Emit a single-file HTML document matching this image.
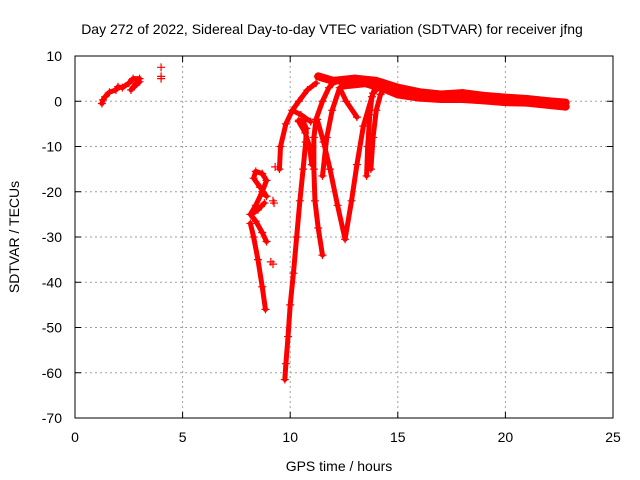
<!DOCTYPE html>
<html><head><meta charset="utf-8"><style>
body{margin:0;background:#fff}
svg{display:block;font-family:"Liberation Sans",sans-serif}
</style></head><body>
<svg id="chart" width="640" height="480">
<rect width="640" height="480" fill="#fff"/>
<text x="332" y="34" font-size="14" text-anchor="middle">Day 272 of 2022, Sidereal Day-to-day VTEC variation (SDTVAR) for receiver jfng</text>
<text x="339" y="471" font-size="14" text-anchor="middle">GPS time / hours</text>
<text transform="translate(19,237) rotate(-90)" font-size="14" text-anchor="middle">SDTVAR / TECUs</text>
<g id="grid"></g><g id="axes"></g><g id="series"></g>
</svg>
<script>
const xTicks=[0,5,10,15,20,25];
const yTicks=[10,0,-10,-20,-30,-40,-50,-60,-70];
// traces: arrays of [hour, SDTVAR]
const traceEarly=[[1.25,-0.5],[1.3,0.3],[1.4,1],[1.6,2],[1.9,2.5],[2.0,3.2],[2.2,3],[2.5,4],[2.7,5],[3.0,5],[2.6,2.5],[3.0,4.3]];
const pointsEarly2=[[4.0,7.5],[4.0,5.5],[4.0,5]];
const traceA=[[8.15,-27],[8.3,-30],[8.5,-35],[8.7,-41],[8.85,-46]];
const traceS=[[8.9,-21],[8.6,-19],[8.3,-17],[8.4,-15.5],[8.7,-16],[8.9,-17.5],[8.7,-20],[8.4,-23],[8.15,-25],[8.4,-26.5],[8.7,-29],[8.9,-31]];
const traceB=[[8.2,-25],[8.5,-24],[8.8,-22.5]];
const pointsIso=[[9.2,-22],[9.1,-35.5],[9.2,-36],[9.25,-22.5],[9.3,-14.5]];
const traceC=[[9.75,-61.5],[9.8,-58],[9.9,-52],[10.0,-45],[10.15,-38],[10.3,-30],[10.45,-22],[10.6,-15],[10.72,-9],[10.75,-6],[10.6,-4.5],[10.4,-4.2]];
const traceD=[[10.4,-4.5],[10.7,-7],[10.9,-10],[11.0,-14]];
const traceE=[[9.5,-15],[9.55,-10],[9.8,-5],[10.1,-2],[10.4,0],[10.8,2.5],[11.2,4]];
const traceF=[[10.1,-2],[10.5,-3],[10.95,-4.5]];
const traceG=[[11.5,-34],[11.3,-28],[11.15,-22],[11.1,-15],[11.1,-8],[11.2,-4],[11.5,0],[11.8,3],[12.1,4.5]];
const traceH=[[11.25,-4],[11.55,-9],[11.85,-15],[12.2,-23],[12.55,-30.5],[12.85,-22],[13.1,-14],[13.4,-5.5],[13.85,1.8],[14.3,4]];
const traceI=[[11.5,-16.5],[11.7,-8],[11.95,-2],[12.3,3],[12.6,0],[13.1,-3.5]];
const traceJ=[[13.55,-16.5],[13.6,-10],[13.7,-3],[13.8,1],[14.0,4]];
const traceK=[[13.75,-15],[13.85,-8],[14.0,-2],[14.2,1.5],[14.4,3]];
const traceTop=[[11.3,5.5],[12,4.5],[13,5],[14,4.5],[15,3],[16,2],[17,1.5],[18,1.8],[19,1.2],[20,0.8],[21,0.5],[22,0],[22.8,-0.3]];
const traceTop2=[[12.5,3.5],[13.5,4],[14.5,2.5],[15,1.5],[16,0.8],[17,0.5],[18,0.5],[19,0.2],[20,-0.2],[21,-0.3],[22,-0.8],[22.8,-1.2]];
const traces=[traceEarly,traceA,traceS,traceB,traceC,traceD,traceE,traceF,traceG,traceH,traceI,traceJ,traceK,traceTop,traceTop2];
const loose=[pointsEarly2,pointsIso];
const X0=75,X1=613,Y0=56,Y1=418;
const xs=h=>X0+h/25*(X1-X0);
const ys=v=>Y0+(10-v)/80*(Y1-Y0);
const NS="http://www.w3.org/2000/svg";
function mk(t,a,p){const e=document.createElementNS(NS,t);for(const k in a)e.setAttribute(k,a[k]);p.appendChild(e);return e;}
const grid=document.getElementById('grid'),axes=document.getElementById('axes'),ser=document.getElementById('series');
xTicks.forEach(t=>{const x=xs(t);
 if(t>0&&t<25){const g=mk('line',{x1:x,x2:x,y1:Y0,y2:Y1,stroke:'#a0a0a0','stroke-dasharray':'2,3'},grid);
 }
 mk('line',{x1:x,x2:x,y1:Y1,y2:Y1-6,stroke:'#000'},axes);mk('line',{x1:x,x2:x,y1:Y0,y2:Y0+6,stroke:'#000'},axes);
 const l=mk('text',{x:x,y:442,'font-size':14,'text-anchor':'middle'},axes);l.textContent=t;
 });
yTicks.forEach(t=>{const y=ys(t);
 if(t<10&&t>-70){const g=mk('line',{x1:X0,x2:X1,y1:y,y2:y,stroke:'#a0a0a0','stroke-dasharray':'2,3'},grid);
 }
 mk('line',{x1:X0,x2:X0+6,y1:y,y2:y,stroke:'#000'},axes);mk('line',{x1:X1,x2:X1-6,y1:y,y2:y,stroke:'#000'},axes);
 const l=mk('text',{x:62,y:y+5,'font-size':14,'text-anchor':'end'},axes);l.textContent=t;
 });
const fr=mk('rect',{x:X0,y:Y0,width:X1-X0,height:Y1-Y0,fill:'none',stroke:'#000'},axes);

function marks(tr){tr.forEach(p=>{const x=xs(p[0]),y=ys(p[1]);
  const m=mk('path',{d:`M${x-4},${y}H${x+4}M${x},${y-4}V${y+4}`,stroke:'#f00','stroke-width':1.2},ser);
  });}
traces.forEach(tr=>{
 const pl=mk('polyline',{points:tr.map(p=>xs(p[0])+','+ys(p[1])).join(' '),fill:'none',stroke:'#f00','stroke-width':tr===traceTop||tr===traceTop2?8:5,'stroke-linejoin':'round','stroke-linecap':'round'},ser);
 
 marks(tr);
});
loose.forEach(marks);
</script>
</body></html>
